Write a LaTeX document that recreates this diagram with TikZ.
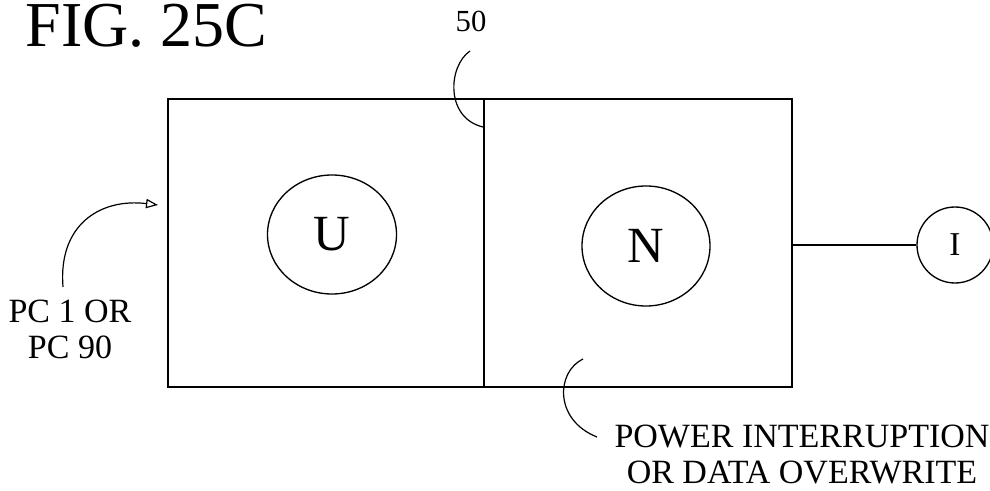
\documentclass[tikz,border=0pt]{standalone}
\usepackage{fontspec}
\setmainfont{Liberation Serif}
\usetikzlibrary{shapes.geometric,arrows.meta}
\begin{document}
\begin{tikzpicture}[x=0.75pt,y=-0.75pt,
  line width=1pt,
  boxst/.style={draw,rectangle,inner sep=0pt},
  ovalst/.style={draw,ellipse,inner sep=0pt},
  lbl/.style={inner sep=0pt,font=\fontsize{25.5}{27}\selectfont},
  leader/.style={line width=0.9pt}]
\useasboundingbox (0,0) rectangle (990,491);
% title
\node[anchor=base west,inner sep=0pt,font=\fontsize{48}{50}\selectfont] (title) at (25,47) {FIG. 25C};
% boxes
\node[boxst,minimum width=237pt,minimum height=216pt] (boxU) at (326,243) {};
\node[boxst,minimum width=231pt,minimum height=216pt] (boxN) at (638,243) {};
% circles
\node[ovalst,minimum width=96.75pt,minimum height=89.25pt,font=\fontsize{38}{40}\selectfont] (U) at (332,234.5) {U};
\node[ovalst,minimum width=96pt,minimum height=90pt,font=\fontsize{38}{40}\selectfont] (N) at (646,246) {N};
\node[ovalst,minimum width=57pt,minimum height=57pt,font=\fontsize{25}{27}\selectfont] (I) at (955,245) {I};
\draw (boxN.east |- I.west) -- (I.west);
% label 50
\node[anchor=base west,inner sep=0pt,font=\fontsize{23}{25}\selectfont] (l50) at (455,32) {50};
\coordinate (c50a) at (470,51);
\coordinate (c50b) at (483,127);
\draw[leader] (c50a) .. controls (448,66) and (445,118) .. (c50b);
% PC label
\node[lbl,anchor=north,align=center] (pc) at (70,299.5) {PC 1 OR\\PC 90};
\coordinate (pcs) at (63,287);
\coordinate (pce) at (158,205);
\draw[leader,-{Triangle[open,length=9pt,width=7pt]}] (pcs) .. controls (58,225) and (100,198) .. (pce);
% power label
\node[lbl,anchor=north,align=center] (pw) at (802,424) {POWER INTERRUPTION\\OR DATA OVERWRITE};
\coordinate (pws) at (583,359);
\coordinate (pwe) at (597,437);
\draw[leader] (pws) .. controls (556,372) and (554,420) .. (pwe);
\end{tikzpicture}
\end{document}
